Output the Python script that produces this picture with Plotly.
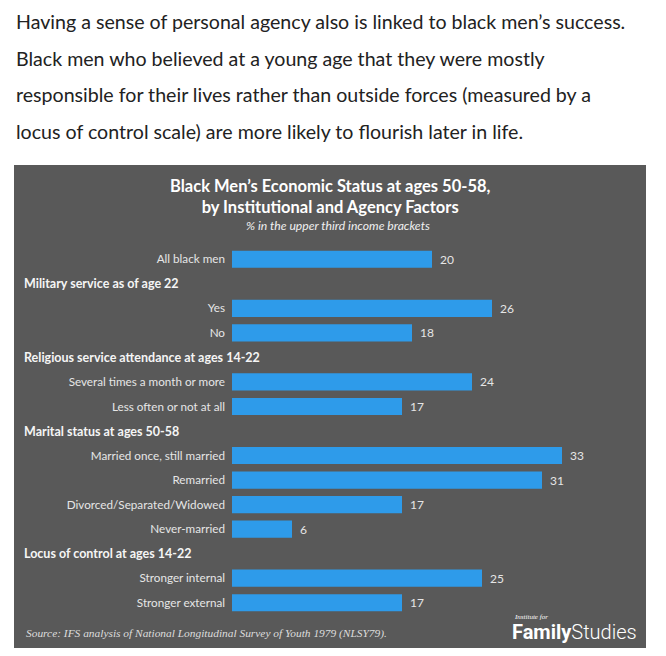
import plotly.graph_objects as go

# rows in display order; header rows have no value
rows = ["All black men",
        "Military service as of age 22", "Yes", "No",
        "Religious service attendance at ages 14-22", "Several times a month or more", "Less often or not at all",
        "Marital status at ages 50-58", "Married once, still married", "Remarried",
        "Divorced/Separated/Widowed", "Never-married",
        "Locus of control at ages 14-22", "Stronger internal", "Stronger external"]
values = [20, None, 26, 18, None, 24, 17, None, 33, 31, 17, 6, None, 25, 17]
is_header = [v is None for v in values]

intro = ["Having a sense of personal agency also is linked to black men\u2019s success.",
         "Black men who believed at a young age that they were mostly",
         "responsible for their lives rather than outside forces (measured by a",
         "locus of control scale) are more likely to flourish later in life."]

title = "Black Men\u2019s Economic Status at ages 50-58,<br>by Institutional and Agency Factors"
subtitle = "% in the upper third income brackets"
source = "Source: IFS analysis of National Longitudinal Survey of Youth 1979 (NLSY79)."

# page body adds an 8px offset, so the figure is drawn 8px in
OFF = 8
W, H = 666 - OFF, 656 - OFF
ML, MR, MT, MB = 232 - OFF, 34, 247 - OFF, 41
PW, PH = W - ML - MR, H - MT - MB

def px(x):
    return (x - OFF - ML) / PW

def py(y):
    return (H - MB - (y - OFF)) / PH

PANEL = "#595959"
BAR = "#2E9BEA"
LABEL = "#E6E6E6"

ypos = list(range(len(rows)))
bar_y = [y for y, h in zip(ypos, is_header) if not h]
bar_x = [v for v in values if v is not None]
bar_lab = [r for r, h in zip(rows, is_header) if not h]

fig = go.Figure()
fig.add_trace(go.Bar(
    x=bar_x, y=bar_y, orientation="h", width=0.7,
    marker=dict(color=BAR, line=dict(width=0)),
    hoverinfo="skip",
))

# value labels
for x, y in zip(bar_x, bar_y):
    fig.add_annotation(x=x, y=y, xref="x", yref="y", text=str(x), showarrow=False,
                       xanchor="left", xshift=6,
                       font=dict(family="Lato", size=12, color=LABEL))

# group headers
for y, r, h in zip(ypos, rows, is_header):
    if h:
        fig.add_annotation(x=px(22), y=y, xref="paper", yref="y", text="<b>" + r + "</b>",
                           showarrow=False, xanchor="left",
                           font=dict(family="Lato", size=12.5, color="#F5F5F5"))

# intro paragraph
for i, line in enumerate(intro):
    fig.add_annotation(x=px(14), y=py(22 + i * 36.5), xref="paper", yref="paper",
                       text=line, showarrow=False, xanchor="left", yanchor="middle",
                       font=dict(family="Lato", size=19.6, color="#222222"))

# chart title
fig.add_annotation(x=px(330), y=py(196), xref="paper", yref="paper", text="<b>" + title + "</b>",
                   showarrow=False, xanchor="center", yanchor="middle",
                   font=dict(family="Lato", size=16.5, color="#FFFFFF"))
fig.add_annotation(x=px(338), y=py(226), xref="paper", yref="paper", text="<i>" + subtitle + "</i>",
                   showarrow=False, xanchor="center", yanchor="middle",
                   font=dict(family="Lato", size=12.2, color="#F0F0F0"))

# source and logo
fig.add_annotation(x=px(24), y=py(633), xref="paper", yref="paper", text="<i>" + source + "</i>",
                   showarrow=False, xanchor="left", yanchor="middle",
                   font=dict(family="Liberation Serif", size=11.4, color="#DDDDDD"))
fig.add_annotation(x=px(512), y=py(617), xref="paper", yref="paper", text="<i>Institute for</i>",
                   showarrow=False, xanchor="left", yanchor="middle",
                   font=dict(family="Liberation Serif", size=7, color="#FFFFFF"))
fig.add_annotation(x=px(510), y=py(632), xref="paper", yref="paper",
                   text="<b>Family</b><span style='font-weight:300'>Studies</span>",
                   showarrow=False, xanchor="left", yanchor="middle",
                   font=dict(family="Roboto", size=20, color="#FFFFFF"))

fig.add_shape(type="rect", xref="paper", yref="paper", layer="below",
              x0=px(14), x1=px(646), y0=py(648), y1=py(165),
              fillcolor=PANEL, line=dict(width=0))

fig.update_layout(
    width=W, height=H,
    margin=dict(l=ML, r=MR, t=MT, b=MB),
    paper_bgcolor="#FFFFFF", plot_bgcolor="rgba(0,0,0,0)",
    showlegend=False, bargap=0.3,
    xaxis=dict(range=[0, 40], visible=False, fixedrange=True),
    yaxis=dict(range=[len(rows) - 0.5, -0.5], tickvals=bar_y, ticktext=bar_lab,
               showgrid=False, zeroline=False, showline=False, ticks="",
               ticklabelstandoff=6,
               tickfont=dict(family="Lato", size=11.7, color=LABEL)),
)

fig.write_html("out.html")
